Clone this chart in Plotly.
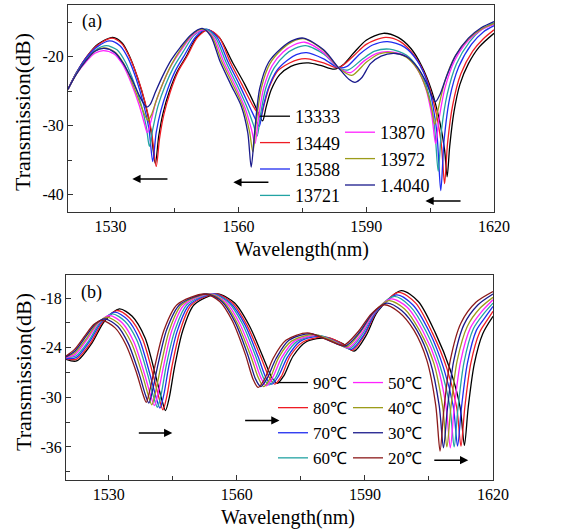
import plotly.graph_objects as go

# ---------------- data ----------------
# Panel (a): transmission spectra for different refractive indices (wavelength nm, dB)
a_13333 = [(1520,-24.7),(1522,-22.3),(1524.5,-19.9),(1527,-18.2),(1530.5,-17.2),(1532.7,-18.0),(1534.5,-20.0),(1536.3,-23.0),(1538,-26.5),(1539.4,-30.5),(1540.5,-35.5),(1541.3,-31.5),(1542.3,-28.2),(1543.8,-25.0),(1545.6,-22.2),(1547.7,-20.0),(1550.2,-17.2),(1552.8,-16.1),(1555.5,-17.2),(1558.6,-20.8),(1561.5,-24.0),(1564.0,-27.2),(1565.1,-28.8),(1565.7,-29.3),(1566.5,-27.3),(1567.7,-24.8),(1569.7,-22.6),(1572.3,-21.4),(1574.3,-21.0),(1576.5,-20.9),(1579.5,-21.3),(1582.5,-21.8),(1584.5,-21.2),(1587,-19.5),(1590,-17.6),(1594,-16.6),(1597.5,-17.2),(1600.5,-18.8),(1603,-21.3),(1605.3,-24.8),(1607.3,-29.5),(1608.4,-33.5),(1609.0,-37.4),(1609.6,-33),(1610.6,-28),(1612,-24),(1614,-21),(1616.5,-18.6),(1620,-16.6)]
a_13449 = [(1520,-24.7),(1522,-22.3),(1524.5,-19.9),(1527,-18.3),(1530.3,-17.3),(1532.6,-18.1),(1534.5,-20.1),(1536.4,-23.1),(1538.1,-26.6),(1539.6,-30.8),(1540.7,-35.9),(1541.5,-31.8),(1542.5,-28.4),(1544,-25.1),(1545.8,-22.2),(1547.9,-20.0),(1550.4,-17.2),(1553,-16.1),(1555.5,-17.2),(1558.1,-20.8),(1560.8,-24.0),(1563.5,-27.2),(1564.7,-28.3),(1565.3,-28.6),(1566.1,-26.8),(1567.3,-24.3),(1569.3,-22.0),(1572,-20.9),(1574,-20.4),(1576.3,-20.3),(1580,-20.9),(1583.5,-21.6),(1587,-19.9),(1590,-18.2),(1594.5,-17.2),(1598,-17.8),(1601,-19.6),(1603.8,-22.6),(1606,-27),(1607.6,-32.5),(1608.4,-38.4),(1609.1,-32.5),(1610.3,-27),(1612.2,-22.5),(1615,-19.2),(1617.5,-17.4),(1620,-16.1)]
a_13588 = [(1520,-24.7),(1522,-22.3),(1524.5,-20.0),(1527,-18.5),(1529.8,-17.7),(1532.2,-18.4),(1534.1,-20.2),(1536,-23.2),(1537.7,-26.8),(1539,-30.5),(1539.9,-35.2),(1540.7,-31),(1541.8,-27.8),(1543.4,-24.7),(1545.3,-21.9),(1547.5,-19.6),(1550,-17.1),(1552.5,-16.0),(1555,-17.2),(1557.6,-20.8),(1560.2,-24.0),(1562.9,-27.6),(1564.2,-29.3),(1564.9,-30.1),(1565.7,-27.6),(1567,-24.6),(1569,-22.0),(1571.5,-20.5),(1573.6,-19.7),(1576,-19.4),(1580,-20.3),(1583.5,-21.6),(1585.5,-21.4),(1588.5,-19.6),(1591.5,-18.3),(1595,-17.8),(1599,-18.6),(1602,-20.6),(1604.5,-24.0),(1606.5,-30.5),(1607.5,-39.4),(1608.3,-32),(1609.6,-26),(1611.7,-21.5),(1614.7,-18.2),(1617.5,-16.4),(1620,-15.5)]
a_13721 = [(1520,-24.7),(1522,-22.4),(1524.5,-20.3),(1526.8,-18.9),(1529,-18.4),(1531.5,-19.0),(1533.5,-20.8),(1535.4,-23.6),(1537.2,-27.0),(1538.4,-30.2),(1539.1,-33.0),(1539.9,-30.5),(1541.1,-27.2),(1542.8,-24.2),(1544.8,-21.5),(1547,-19.3),(1549.6,-16.9),(1552.3,-16.0),(1554.6,-17.2),(1557.1,-20.8),(1559.6,-24.0),(1562.2,-27.6),(1563.6,-30.0),(1564.4,-31.5),(1565.2,-28.4),(1566.4,-24.6),(1568.4,-21.6),(1571,-19.7),(1573.3,-18.8),(1575.8,-18.4),(1580,-19.6),(1583.5,-21.6),(1585.8,-21.9),(1589,-20.4),(1592,-19.2),(1595.5,-18.9),(1599.5,-19.8),(1602.3,-21.8),(1604.4,-24.8),(1606,-30),(1606.9,-36.6),(1607.7,-30.5),(1609,-25.5),(1611.2,-21),(1614.3,-17.8),(1617,-16.1),(1620,-15.1)]
a_13870 = [(1520,-24.7),(1522,-22.5),(1524.3,-20.7),(1526.3,-19.5),(1528.3,-19.1),(1530.8,-19.6),(1532.9,-21.2),(1534.9,-23.9),(1536.7,-27.0),(1537.9,-29.6),(1538.6,-31.0),(1539.4,-29.5),(1540.6,-26.6),(1542.3,-23.8),(1544.3,-21.2),(1546.6,-19.0),(1549.3,-16.9),(1552,-16.1),(1554.2,-17.2),(1556.6,-20.8),(1559.1,-24.0),(1561.6,-27.5),(1563.1,-30.6),(1563.9,-32.6),(1564.7,-29.0),(1565.9,-24.6),(1567.9,-21.3),(1570.5,-19.3),(1573,-18.3),(1575.6,-17.9),(1580,-19.4),(1583.5,-21.6),(1586.3,-22.3),(1589.5,-20.6),(1592.5,-19.5),(1595.8,-19.3),(1599.5,-20.0),(1602,-21.8),(1604,-24.6),(1605.4,-28.5),(1606.3,-32.6),(1607.1,-29),(1608.5,-24.5),(1610.8,-20.5),(1614,-17.6),(1617,-16.1),(1620,-15.3)]
a_13972 = [(1520,-24.7),(1522,-22.5),(1524.3,-20.5),(1526.3,-19.2),(1528.5,-18.7),(1531,-19.3),(1533.1,-21.0),(1535.1,-23.8),(1536.9,-26.7),(1538.2,-28.7),(1538.8,-29.2),(1539.6,-28.4),(1540.8,-26.2),(1542.5,-23.5),(1544.4,-21.0),(1546.6,-18.8),(1549.1,-16.8),(1551.7,-16.0),(1553.8,-17.1),(1556.1,-20.7),(1558.6,-23.9),(1561.1,-27.3),(1562.6,-30.8),(1563.4,-33.8),(1564.2,-29.5),(1565.4,-24.5),(1567.4,-21.0),(1570.2,-18.9),(1572.7,-17.8),(1575.5,-17.4),(1580,-19.1),(1583.5,-21.6),(1586.6,-22.7),(1590,-20.8),(1593,-19.6),(1596,-19.4),(1599.5,-20.1),(1602,-21.8),(1604,-24.5),(1605.4,-27.6),(1606.1,-29.8),(1606.9,-27.6),(1608.5,-23.5),(1610.8,-20.0),(1614,-17.4),(1617,-16.0),(1620,-15.2)]
a_14040 = [(1520,-24.7),(1522,-22.5),(1524.3,-20.5),(1526.3,-19.2),(1528.5,-18.8),(1531,-19.4),(1533,-21.0),(1535,-23.3),(1536.8,-25.7),(1538,-27.0),(1538.5,-27.3),(1539.3,-26.9),(1540.6,-25.0),(1542.3,-22.7),(1544.2,-20.5),(1546.4,-18.6),(1548.9,-16.8),(1551.5,-15.9),(1553.5,-17.0),(1555.7,-20.7),(1558.2,-24.0),(1560.7,-27.2),(1562.2,-31.0),(1563.0,-36.0),(1563.8,-31.0),(1565,-24.6),(1567.1,-20.8),(1570,-18.8),(1572.5,-17.7),(1575.3,-17.3),(1580,-19.0),(1583.5,-21.6),(1586,-23.3),(1587.4,-23.7),(1589,-23.0),(1591,-21.0),(1593.5,-19.9),(1596.5,-19.5),(1599.5,-20.0),(1602,-21.5),(1604,-23.6),(1605.5,-25.8),(1606.3,-26.5),(1607.3,-25.5),(1609,-22.6),(1611,-19.8),(1614,-17.3),(1617,-15.8),(1620,-14.9)]

# Panel (b): transmission spectra for different temperatures
b_90 = [(1520,-25.4),(1522.5,-25.6),(1526.0,-23.5),(1529.0,-20.8),(1532.5,-19.3),(1535.5,-20.2),(1538.5,-22.8),(1541.0,-27.4),(1542.5,-30.4),(1543.3,-31.6),(1544.2,-30.0),(1545.4,-26.4),(1547.3,-22.0),(1550.0,-18.8),(1555.5,-17.5),(1559.5,-18.6),(1563.0,-21.4),(1566.2,-25.2),(1568.2,-27.6),(1569.5,-28.3),(1571.0,-27.4),(1573.2,-25.0),(1576.2,-23.3),(1581.3,-22.8),(1584.8,-23.5),(1587.5,-24.4),(1590.3,-22.5),(1593.0,-19.6),(1598.5,-17.1),(1602.5,-18.4),(1606.5,-22.2),(1610.0,-26.7),(1612.3,-31.2),(1613.3,-35.8),(1614.2,-31.2),(1615.6,-26.0),(1617.6,-22.3),(1620.0,-20.2)]
b_80 = [(1520,-25.3),(1522.4,-25.4),(1525.8,-23.4),(1528.6,-20.9),(1531.9,-19.5),(1534.9,-20.4),(1537.9,-22.9),(1540.4,-27.3),(1541.9,-30.3),(1542.7,-31.5),(1543.6,-29.9),(1544.8,-26.3),(1546.7,-22.0),(1549.4,-18.8),(1555.1,-17.5),(1559.0,-18.6),(1562.4,-21.3),(1565.6,-25.1),(1567.6,-27.6),(1568.9,-28.4),(1570.4,-27.5),(1572.5,-25.0),(1575.5,-23.3),(1580.6,-22.7),(1584.3,-23.4),(1587.1,-24.3),(1590.0,-22.4),(1592.8,-19.6),(1597.9,-17.3),(1601.9,-18.6),(1605.8,-22.2),(1609.2,-26.5),(1611.5,-31.2),(1612.5,-35.9),(1613.4,-31.2),(1614.8,-25.9),(1616.9,-22.1),(1618.6,-20.7),(1620,-19.6)]
b_70 = [(1520,-25.3),(1522.4,-25.2),(1525.6,-23.2),(1528.3,-20.9),(1531.4,-19.7),(1534.4,-20.6),(1537.2,-23.0),(1539.7,-27.3),(1541.2,-30.2),(1542.0,-31.3),(1542.9,-29.7),(1544.1,-26.2),(1546.1,-21.9),(1548.9,-18.8),(1554.6,-17.5),(1558.5,-18.6),(1561.9,-21.2),(1565.0,-25.1),(1566.9,-27.7),(1568.2,-28.4),(1569.7,-27.5),(1571.9,-25.1),(1574.9,-23.2),(1579.9,-22.6),(1583.7,-23.4),(1586.8,-24.2),(1589.8,-22.4),(1592.6,-19.7),(1597.4,-17.6),(1601.2,-18.8),(1605.1,-22.1),(1608.4,-26.4),(1610.7,-31.1),(1611.7,-35.9),(1612.6,-31.3),(1614.0,-25.9),(1616.1,-21.9),(1618.2,-20.3),(1620,-19.0)]
b_60 = [(1520,-25.2),(1522.3,-25.0),(1525.4,-23.1),(1527.9,-21.0),(1530.8,-19.9),(1533.8,-20.8),(1536.6,-23.1),(1539.1,-27.2),(1540.6,-30.1),(1541.4,-31.2),(1542.3,-29.6),(1543.5,-26.1),(1545.5,-21.9),(1548.3,-18.8),(1554.2,-17.5),(1558.0,-18.5),(1561.3,-21.1),(1564.4,-25.0),(1566.3,-27.7),(1567.6,-28.5),(1569.1,-27.6),(1571.2,-25.1),(1574.2,-23.2),(1579.2,-22.5),(1583.2,-23.3),(1586.4,-24.1),(1589.5,-22.3),(1592.4,-19.7),(1596.8,-17.8),(1600.6,-19.0),(1604.4,-22.1),(1607.6,-26.2),(1609.9,-31.1),(1610.9,-36.0),(1611.8,-31.3),(1613.2,-25.8),(1615.4,-21.7),(1617.8,-19.9),(1620,-18.6)]
b_50 = [(1520,-25.2),(1522.2,-24.8),(1525.1,-22.9),(1527.6,-21.0),(1530.2,-20.1),(1533.2,-21.0),(1535.9,-23.3),(1538.4,-27.2),(1539.9,-29.9),(1540.7,-31.0),(1541.6,-29.4),(1542.9,-26.1),(1544.8,-21.9),(1547.7,-18.8),(1553.8,-17.5),(1557.5,-18.5),(1560.7,-21.1),(1563.8,-25.0),(1565.7,-27.7),(1566.9,-28.6),(1568.4,-27.6),(1570.5,-25.2),(1573.5,-23.2),(1578.6,-22.5),(1582.6,-23.2),(1586.1,-24.0),(1589.3,-22.2),(1592.1,-19.8),(1596.2,-18.1),(1599.9,-19.1),(1603.6,-22.0),(1606.9,-26.0),(1609.0,-31.1),(1610.0,-36.1),(1610.9,-31.4),(1612.4,-25.7),(1614.7,-21.6),(1617.4,-19.6),(1620,-18.2)]
b_40 = [(1520,-25.1),(1522.1,-24.6),(1524.9,-22.8),(1527.2,-21.1),(1529.6,-20.3),(1532.6,-21.2),(1535.3,-23.4),(1537.8,-27.1),(1539.3,-29.8),(1540.1,-30.9),(1541.0,-29.3),(1542.3,-26.0),(1544.2,-21.9),(1547.1,-18.8),(1553.4,-17.5),(1557.0,-18.5),(1560.1,-21.0),(1563.2,-24.9),(1565.1,-27.7),(1566.3,-28.7),(1567.8,-27.7),(1569.8,-25.2),(1572.8,-23.2),(1577.9,-22.4),(1582.1,-23.1),(1585.7,-23.9),(1589.0,-22.1),(1591.9,-19.8),(1595.6,-18.3),(1599.3,-19.3),(1602.9,-22.0),(1606.1,-25.8),(1608.2,-31.1),(1609.2,-36.0),(1610.1,-31.4),(1611.6,-25.6),(1614.0,-21.4),(1617.0,-19.2),(1620,-17.9)]
b_30 = [(1520,-25.1),(1522.1,-24.4),(1524.7,-22.6),(1526.9,-21.1),(1529.1,-20.5),(1532.1,-21.4),(1534.6,-23.5),(1537.1,-27.1),(1538.6,-29.7),(1539.4,-30.7),(1540.3,-29.1),(1541.6,-25.9),(1543.6,-21.8),(1546.6,-18.8),(1552.9,-17.5),(1556.5,-18.4),(1559.6,-20.9),(1562.6,-24.9),(1564.4,-27.8),(1565.6,-28.7),(1567.1,-27.7),(1569.2,-25.3),(1572.2,-23.1),(1577.2,-22.3),(1581.5,-23.1),(1585.4,-23.8),(1588.8,-22.1),(1591.7,-19.9),(1595.1,-18.6),(1598.6,-19.5),(1602.2,-21.9),(1605.3,-25.7),(1607.4,-31.0),(1608.4,-36.1),(1609.3,-31.5),(1610.8,-25.6),(1613.2,-21.2),(1616.5,-18.8),(1620,-17.5)]
b_20 = [(1520,-25.0),(1522.0,-24.2),(1524.5,-22.5),(1526.5,-21.2),(1528.5,-20.7),(1531.5,-21.6),(1534.0,-23.6),(1536.5,-27.0),(1538.0,-29.6),(1538.8,-30.6),(1539.7,-29.0),(1541.0,-25.8),(1543.0,-21.8),(1546.0,-18.8),(1552.5,-17.5),(1556.0,-18.4),(1559.0,-20.8),(1562.0,-24.8),(1563.8,-27.8),(1565.0,-28.8),(1566.5,-27.8),(1568.5,-25.3),(1571.5,-23.1),(1576.5,-22.2),(1581.0,-23.0),(1585.0,-23.7),(1588.5,-22.0),(1591.5,-19.9),(1594.5,-18.8),(1598.0,-19.7),(1601.5,-21.9),(1604.5,-25.5),(1606.6,-31.0),(1607.6,-36.5),(1608.5,-31.5),(1610.0,-25.5),(1612.5,-21.0),(1616.0,-18.5),(1620.0,-17.2)]

a_names = ["13333", "13449", "13588", "13721", "13870", "13972", "1.4040"]
a_series = [a_13333, a_13449, a_13588, a_13721, a_13870, a_13972, a_14040]
b_names = ["90℃", "80℃", "70℃", "60℃", "50℃", "40℃", "30℃", "20℃"]
b_series = [b_90, b_80, b_70, b_60, b_50, b_40, b_30, b_20]

x_ticks = [1530, 1560, 1590, 1620]
x_minor = [1545, 1575, 1605]
ya_ticks = [-40, -30, -20]
ya_labels = ["-40", "-30", "-20"]
ya_minor = [-35, -25, -15]
yb_ticks = [-36, -30, -24, -18]
yb_labels = ["-36", "-30", "-24", "-18"]
yb_minor = [-39, -33, -27, -21]

# arrows: (tail wavelength, head wavelength, level dB)
a_arrows = [(1543.7, 1535.1, -37.7), (1567.4, 1558.8, -38.2), (1612.5, 1603.9, -40.9)]
b_arrows = [(1536.7, 1544.9, -34.3), (1561.6, 1570.0, -32.8), (1605.9, 1614.2, -37.6)]

# ---------------- styling ----------------
a_colors = ["#000000", "#ee1c24", "#1f2cf0", "#22a3a3", "#ff22ff", "#9c9c1a", "#1a1a8c"]
b_colors = ["#000000", "#ee1c24", "#1f2cf0", "#22a3a3", "#ff22ff", "#9c9c1a", "#1a1a8c", "#8c1a1a"]
FONT = "Liberation Serif"
W, H = 571, 531

fig = go.Figure()
for i, (name, s) in enumerate(zip(a_names, a_series)):
    fig.add_trace(go.Scatter(
        x=[p[0] for p in s], y=[p[1] for p in s], name=name, mode="lines",
        line=dict(color=a_colors[i], width=1.3, shape="spline", smoothing=0.8),
        xaxis="x", yaxis="y", legend="legend" if i < 4 else "legend2"))
for i, (name, s) in enumerate(zip(b_names, b_series)):
    fig.add_trace(go.Scatter(
        x=[p[0] for p in s], y=[p[1] for p in s], name=name, mode="lines",
        line=dict(color=b_colors[i], width=1.3, shape="spline", smoothing=0.8),
        xaxis="x2", yaxis="y2", legend="legend3" if i < 4 else "legend4"))

def px_x(p):
    return p / W

def px_y(p):
    return 1 - p / H

axis_common = dict(showline=True, mirror=True, linecolor="#333333", linewidth=1,
                   ticks="inside", ticklen=5, tickcolor="#333333", showgrid=False,
                   zeroline=False, tickfont=dict(family=FONT, size=16, color="black"))

fig.update_layout(
    width=W, height=H, margin=dict(l=0, r=0, t=0, b=0, autoexpand=False),
    paper_bgcolor="white", plot_bgcolor="white",
    font=dict(family=FONT, color="black"),
    xaxis=dict(domain=[px_x(68), px_x(494)], range=[1520, 1620], anchor="y",
               tickvals=x_ticks, minor=dict(tickvals=x_minor, ticks="inside", ticklen=4, tickcolor="#333333"),
               **axis_common),
    yaxis=dict(domain=[px_y(212), px_y(5)], range=[-42.5, -12.5], anchor="x",
               tickvals=ya_ticks, ticktext=ya_labels,
               minor=dict(tickvals=ya_minor, ticks="inside", ticklen=4, tickcolor="#333333"),
               **axis_common),
    xaxis2=dict(domain=[px_x(66), px_x(493)], range=[1520, 1620], anchor="y2",
                tickvals=x_ticks, minor=dict(tickvals=x_minor, ticks="inside", ticklen=4, tickcolor="#333333"),
                **axis_common),
    yaxis2=dict(domain=[px_y(480), px_y(275)], range=[-40, -15.2], anchor="x2",
                tickvals=yb_ticks, ticktext=yb_labels,
                minor=dict(tickvals=yb_minor, ticks="inside", ticklen=4, tickcolor="#333333"),
                **axis_common),
)

leg_a = dict(bgcolor="rgba(0,0,0,0)", borderwidth=0, font=dict(family=FONT, size=18, color="black"),
             xanchor="left", yanchor="top", tracegroupgap=0)
leg_b = dict(bgcolor="rgba(0,0,0,0)", borderwidth=0, font=dict(family=FONT, size=17, color="black"),
             xanchor="left", yanchor="top", tracegroupgap=0)
fig.update_layout(
    legend=dict(x=px_x(255), y=px_y(98), **leg_a),
    legend2=dict(x=px_x(340), y=px_y(114), **leg_a),
    legend3=dict(x=px_x(273), y=px_y(365), **leg_b),
    legend4=dict(x=px_x(348), y=px_y(365), **leg_b),
)

ann = []
for tail, head, lev in a_arrows:
    ann.append(dict(x=head, y=lev, ax=tail, ay=lev, xref="x", yref="y", axref="x", ayref="y",
                    text="", showarrow=True, arrowhead=2, arrowsize=1.1, arrowwidth=1.5, arrowcolor="black"))
for tail, head, lev in b_arrows:
    ann.append(dict(x=head, y=lev, ax=tail, ay=lev, xref="x2", yref="y2", axref="x2", ayref="y2",
                    text="", showarrow=True, arrowhead=2, arrowsize=1.1, arrowwidth=1.5, arrowcolor="black"))
title_font = dict(family=FONT, size=20, color="black")
centered = dict(xref="paper", yref="paper", showarrow=False, xanchor="center", yanchor="middle")
ann += [
    dict(text="Wavelength(nm)", x=px_x(302), y=px_y(249), font=title_font, **centered),
    dict(text="Wavelength(nm)", x=px_x(288), y=px_y(517), font=title_font, **centered),
    dict(text="Transmission(dB)", x=px_x(23), y=px_y(112), textangle=-90,
         font=dict(family=FONT, size=22, color="black"), **centered),
    dict(text="Transmission(dB)", x=px_x(23), y=px_y(372), textangle=-90,
         font=dict(family=FONT, size=22, color="black"), **centered),
    dict(text="(a)", x=px_x(92), y=px_y(22), font=dict(family=FONT, size=18, color="black"), **centered),
    dict(text="(b)", x=px_x(91), y=px_y(292), font=dict(family=FONT, size=18, color="black"), **centered),
]
fig.update_layout(annotations=ann)

fig.write_html("out.html", config={"responsive": False, "displayModeBar": False},
               post_script="document.body.style.margin='0px';document.body.style.overflow='hidden';")
